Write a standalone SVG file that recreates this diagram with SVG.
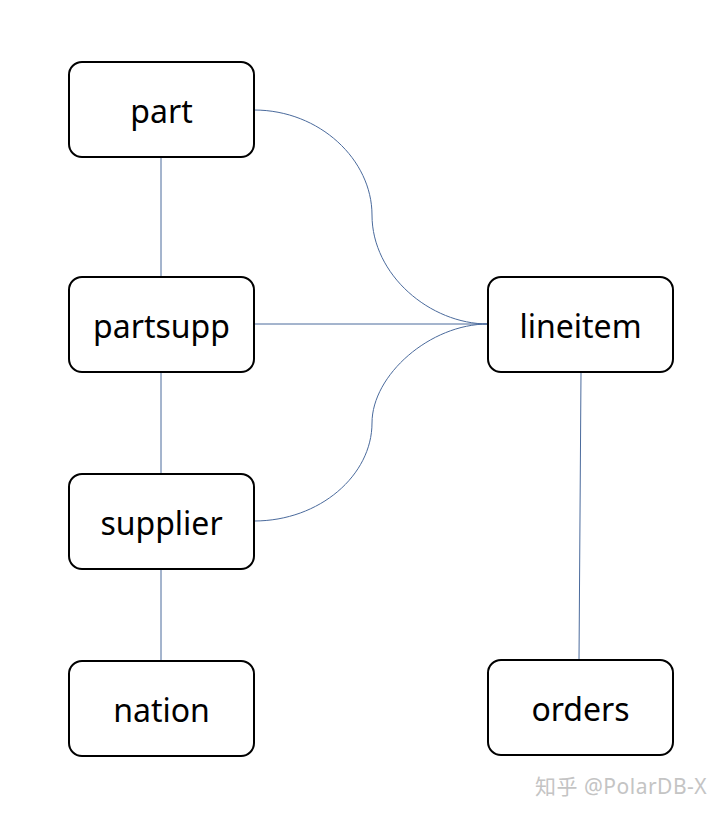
<svg xmlns="http://www.w3.org/2000/svg" width="724" height="816" viewBox="0 0 724 816">
<style>
.box{fill:#fff;stroke:#000;stroke-width:2}
.lbl{font-family:"Noto Sans","Open Sans",sans-serif;font-size:32px;fill:#000;text-anchor:middle}
.c{fill:none;stroke:#4a6a9c;stroke-width:1}
.wm{font-family:"Noto Sans","Noto Sans CJK SC",sans-serif;font-size:21px;fill:#c4c4c4;letter-spacing:0.5px}
</style>
<rect width="724" height="816" fill="#fff"/>
<g id="connectors">
<line class="c" x1="161" y1="157" x2="161" y2="277"/>
<line class="c" x1="161" y1="372" x2="161" y2="474"/>
<line class="c" x1="161" y1="569" x2="161" y2="661"/>
<line class="c" x1="254" y1="324" x2="488" y2="324"/>
<path class="c" d="M254,110 C320,110 372,160 372,215 C372,275 430,324 488,324"/>
<path class="c" d="M254,521 C320,521 372,475 372,423 C372,375 430,324 488,324"/>
<line class="c" x1="581" y1="372" x2="579" y2="660"/>
</g>
<g id="part"><rect class="box" x="69" y="62" width="185" height="95" rx="13"/><text class="lbl" x="161.5" y="123">part</text></g>
<g id="partsupp"><rect class="box" x="69" y="277" width="185" height="95" rx="13"/><text class="lbl" x="161.5" y="338">partsupp</text></g>
<g id="supplier"><rect class="box" x="69" y="474" width="185" height="95" rx="13"/><text class="lbl" x="161.5" y="535">supplier</text></g>
<g id="nation"><rect class="box" x="69" y="661" width="185" height="95" rx="13"/><text class="lbl" x="161.5" y="722">nation</text></g>
<g id="lineitem"><rect class="box" x="488" y="277" width="185" height="95" rx="13"/><text class="lbl" x="580.5" y="338">lineitem</text></g>
<g id="orders"><rect class="box" x="488" y="660" width="185" height="95" rx="13"/><text class="lbl" x="580.5" y="721">orders</text></g>
<text class="wm" x="535" y="794">知乎 @PolarDB-X</text>
</svg>
